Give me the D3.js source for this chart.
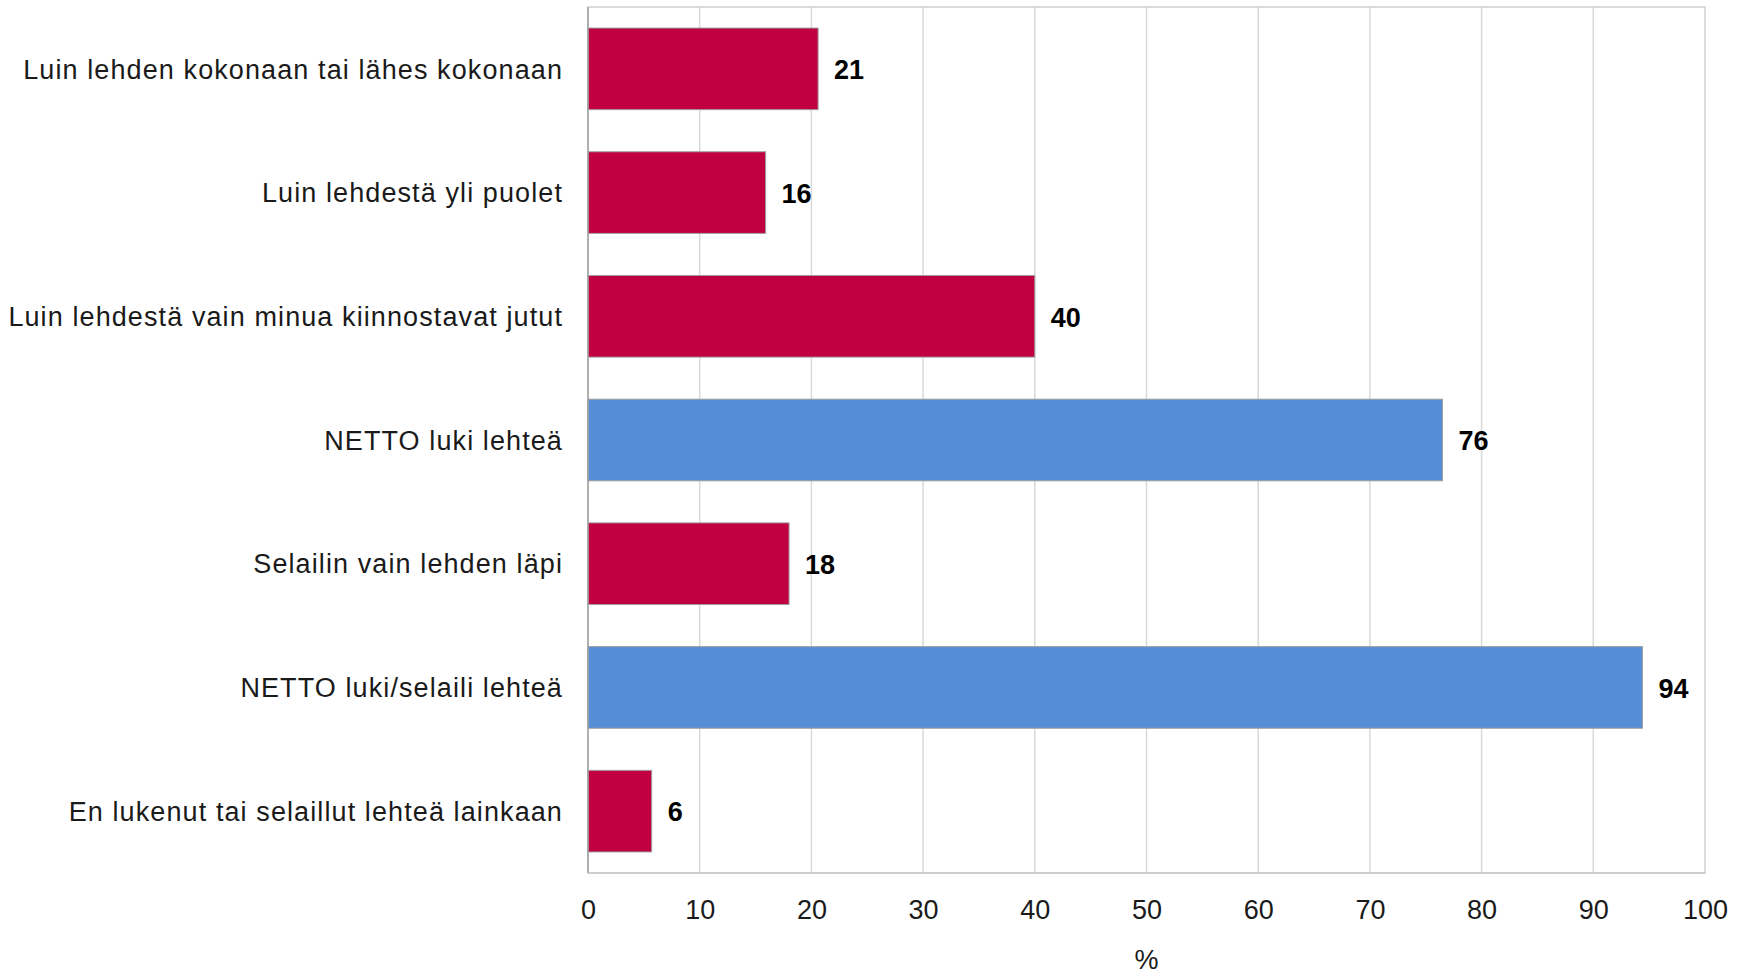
<!DOCTYPE html>
<html>
<head>
<meta charset="utf-8">
<script src="https://cdn.jsdelivr.net/npm/d3@7"></script>
<style>
  html, body { margin: 0; padding: 0; background: #fff; overflow: hidden; }
  svg { display: block; }
  text { font-family: "Liberation Sans", Arial, sans-serif; }
</style>
</head>
<body>
<svg id="chart"></svg>
<script>
const categories = [
  "Luin lehden kokonaan tai lähes kokonaan",
  "Luin lehdestä yli puolet",
  "Luin lehdestä vain minua kiinnostavat jutut",
  "NETTO luki lehteä",
  "Selailin vain lehden läpi",
  "NETTO luki/selaili lehteä",
  "En lukenut tai selaillut lehteä lainkaan"
];
const values = [20.6, 15.9, 40.0, 76.5, 18.0, 94.4, 5.7];
const valueLabels = ["21", "16", "40", "76", "18", "94", "6"];
const isNetto = [false, false, false, true, false, true, false];
const xTicks = [0, 10, 20, 30, 40, 50, 60, 70, 80, 90, 100];
const xTitle = "%";

const width = 1750, height = 971;
const margin = { top: 7, right: 45, bottom: 98, left: 588 };
const innerWidth = width - margin.left - margin.right;
const innerHeight = height - margin.top - margin.bottom;

const colors = { red: "#c00040", blue: "#558ed5" };

const svg = d3.select("#chart").attr("width", width).attr("height", height);
const g = svg.append("g").attr("transform", `translate(${margin.left},${margin.top})`);

const x = d3.scaleLinear().domain([0, 100]).range([0, innerWidth]);
const y = d3.scaleBand().domain(categories).range([0, innerHeight]).paddingInner(0.34).paddingOuter(0.17);

// gridlines
g.selectAll(".grid")
  .data(xTicks.slice(1, -1))
  .enter()
  .append("line")
  .attr("x1", d => x(d)).attr("x2", d => x(d))
  .attr("y1", 0).attr("y2", innerHeight)
  .attr("stroke", "#d9d9d9").attr("stroke-width", 1.5);

// frame
g.append("rect")
  .attr("x", 0).attr("y", 0)
  .attr("width", innerWidth).attr("height", innerHeight)
  .attr("fill", "none").attr("stroke", "#d0d0d0").attr("stroke-width", 1.5);

// bars
g.selectAll(".bar")
  .data(categories)
  .enter()
  .append("rect")
  .attr("x", 0)
  .attr("y", d => y(d))
  .attr("width", (d, i) => x(values[i]))
  .attr("height", y.bandwidth())
  .attr("fill", (d, i) => isNetto[i] ? colors.blue : colors.red)
  .attr("stroke", "#a0a0a0").attr("stroke-width", 1);

// value labels
g.selectAll(".val")
  .data(categories)
  .enter()
  .append("text")
  .attr("x", (d, i) => x(values[i]) + 16)
  .attr("y", d => y(d) + y.bandwidth() / 2)
  .attr("dy", "0.38em")
  .style("font-size", "27px")
  .style("font-weight", "bold")
  .style("fill", "#000")
  .text((d, i) => valueLabels[i]);

// left axis lines
g.append("line")
  .attr("x1", 0).attr("x2", 0).attr("y1", 0).attr("y2", innerHeight)
  .attr("stroke", "#a0a0a0").attr("stroke-width", 1.5);
g.append("line")
  .attr("x1", 0).attr("x2", innerWidth).attr("y1", innerHeight).attr("y2", innerHeight)
  .attr("stroke", "#c8c8c8").attr("stroke-width", 1.5);

// category labels
const yAxis = g.append("g")
  .call(d3.axisLeft(y).tickSize(0).tickPadding(25));
yAxis.select(".domain").remove();
yAxis.selectAll("text")
  .attr("dy", "0.36em")
  .style("font-size", "27px")
  .style("letter-spacing", "1.1px")
  .style("font-family", "'Liberation Sans', Arial, sans-serif")
  .style("fill", "#1a1a1a");

// x axis
const xAxis = g.append("g")
  .attr("transform", `translate(0,${innerHeight})`)
  .call(d3.axisBottom(x).tickValues(xTicks).tickSize(0).tickPadding(27));
xAxis.select(".domain").remove();
xAxis.selectAll("text")
  .style("font-size", "27px")
  .style("font-family", "'Liberation Sans', Arial, sans-serif")
  .style("fill", "#1a1a1a");

g.append("text")
  .attr("x", innerWidth / 2)
  .attr("y", innerHeight + 96)
  .attr("text-anchor", "middle")
  .style("font-size", "27px")
  .style("fill", "#1a1a1a")
  .text(xTitle);
</script>
</body>
</html>
